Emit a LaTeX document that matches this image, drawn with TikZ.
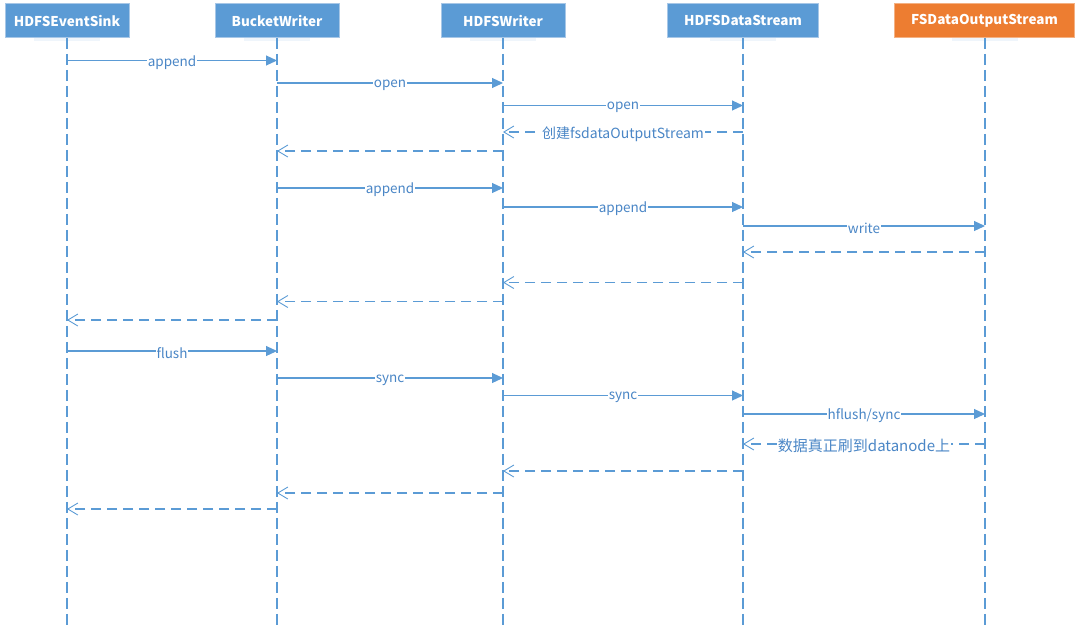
\documentclass[tikz,border=0pt]{standalone}
\usepackage{fontspec}
\setmainfont{Noto Sans CJK SC}
\usetikzlibrary{arrows.meta}
\definecolor{boxblue}{HTML}{5B9BD5}
\definecolor{boxblueedge}{HTML}{A7C7E7}
\definecolor{boxorange}{HTML}{ED7D31}
\definecolor{boxorangeedge}{HTML}{F4B183}
\definecolor{linecol}{HTML}{5B9BD5}
\definecolor{textcol}{HTML}{4A86C6}
\definecolor{shadowcol}{HTML}{EFF5FB}
\tikzset{
 header/.style={draw=boxblueedge, fill=boxblue, line width=0.8pt, minimum height=34pt, inner sep=0pt, text=white, font=\fontsize{13.5}{16}\selectfont\bfseries},
 headerorange/.style={header, draw=boxorangeedge, fill=boxorange},
 shade/.style={fill=shadowcol, draw=none},
 lifeline/.style={draw=linecol, line width=1.2pt, dash pattern=on 11pt off 5pt},
 callmsg/.style={draw=linecol, line width=1.1pt, -{Triangle[length=11pt,width=10pt]}},
 retmsg/.style={draw=linecol, line width=1.1pt, dash pattern=on 10pt off 6pt, -{Straight Barb[length=10pt,width=12pt,line width=0.9pt]}},
 msglabel/.style={fill=white, inner sep=1pt, yshift=-2pt, text=textcol, font=\fontsize{13.5}{16}\selectfont},
}
\begin{document}
\begin{tikzpicture}[x=1pt,y=-1pt]
\useasboundingbox (0,0) rectangle (1081,630);
% soft shadows under headers
\foreach \x in {67,277,503,743,985}{
  \fill[shade] (\x-33,37) rectangle (\x+33,41);
}
% headers
\node[header, minimum width=124pt] (h1) at (67,20.5) {HDFSEventSink};
\node[header, minimum width=124pt] (h2) at (277,20.5) {BucketWriter};
\node[header, minimum width=124pt] (h3) at (503,20.5) {HDFSWriter};
\node[header, minimum width=151pt] (h4) at (743,20.5) {HDFSDataStream};
\node[headerorange, minimum width=180pt] (h5) at (984.5,20.5) {FSDataOutputStream};
% lifeline ends
\coordinate (e1) at (67,628);
\coordinate (e2) at (277,628);
\coordinate (e3) at (503,628);
\coordinate (e4) at (743,628);
\coordinate (e5) at (985,628);
\draw[lifeline] (h1.south) -- (e1);
\draw[lifeline] (h2.south) -- (e2);
\draw[lifeline] (h3.south) -- (e3);
\draw[lifeline] (h4.south) -- (e4);
\draw[lifeline] (h5.south -| e5) -- (e5);
% message anchors
\coordinate (m1a) at (67,60.5);   \coordinate (m1b) at (277,60.5);
\coordinate (m2a) at (277,83);    \coordinate (m2b) at (503,83);
\coordinate (m3a) at (503,105.5); \coordinate (m3b) at (743,105.5);
\coordinate (m4a) at (743,132);   \coordinate (m4b) at (503,132);
\coordinate (m5a) at (503,151);   \coordinate (m5b) at (277,151);
\coordinate (m6a) at (277,188);   \coordinate (m6b) at (503,188);
\coordinate (m7a) at (503,207);   \coordinate (m7b) at (743,207);
\coordinate (m8a) at (743,226);   \coordinate (m8b) at (985,226);
\coordinate (m9a) at (985,252);   \coordinate (m9b) at (743,252);
\coordinate (m10a) at (743,282.5); \coordinate (m10b) at (503,282.5);
\coordinate (m11a) at (503,301.5); \coordinate (m11b) at (277,301.5);
\coordinate (m12a) at (277,320);  \coordinate (m12b) at (67,320);
\coordinate (m13a) at (67,351);   \coordinate (m13b) at (277,351);
\coordinate (m14a) at (277,378);  \coordinate (m14b) at (503,378);
\coordinate (m15a) at (503,395.5); \coordinate (m15b) at (743,395.5);
\coordinate (m16a) at (743,414);  \coordinate (m16b) at (985,414);
\coordinate (m17a) at (985,444);  \coordinate (m17b) at (743,444);
\coordinate (m18a) at (743,471);  \coordinate (m18b) at (503,471);
\coordinate (m19a) at (503,493);  \coordinate (m19b) at (277,493);
\coordinate (m20a) at (277,509);  \coordinate (m20b) at (67,509);
% messages
\draw[callmsg] (m1a) -- node[msglabel] (t1) {append} (m1b);
\draw[callmsg] (m2a) -- node[msglabel] (t2) {open} (m2b);
\draw[callmsg] (m3a) -- node[msglabel] (t3) {open} (m3b);
\draw[retmsg]  (m4a) -- node[msglabel, font=\fontsize{14}{16}\selectfont] (t4) {创建fsdataOutputStream} (m4b);
\draw[retmsg]  (m5a) -- (m5b);
\draw[callmsg] (m6a) -- node[msglabel] (t6) {append} (m6b);
\draw[callmsg] (m7a) -- node[msglabel] (t7) {append} (m7b);
\draw[callmsg] (m8a) -- node[msglabel] (t8) {write} (m8b);
\draw[retmsg]  (m9a) -- (m9b);
\draw[retmsg]  (m10a) -- (m10b);
\draw[retmsg]  (m11a) -- (m11b);
\draw[retmsg]  (m12a) -- (m12b);
\draw[callmsg] (m13a) -- node[msglabel] (t13) {flush} (m13b);
\draw[callmsg] (m14a) -- node[msglabel] (t14) {sync} (m14b);
\draw[callmsg] (m15a) -- node[msglabel] (t15) {sync} (m15b);
\draw[callmsg] (m16a) -- node[msglabel] (t16) {hflush/sync} (m16b);
\draw[retmsg]  (m17a) -- node[msglabel, font=\fontsize{15}{17}\selectfont] (t17) {数据真正刷到datanode上} (m17b);
\draw[retmsg]  (m18a) -- (m18b);
\draw[retmsg]  (m19a) -- (m19b);
\draw[retmsg]  (m20a) -- (m20b);
\end{tikzpicture}
\end{document}
